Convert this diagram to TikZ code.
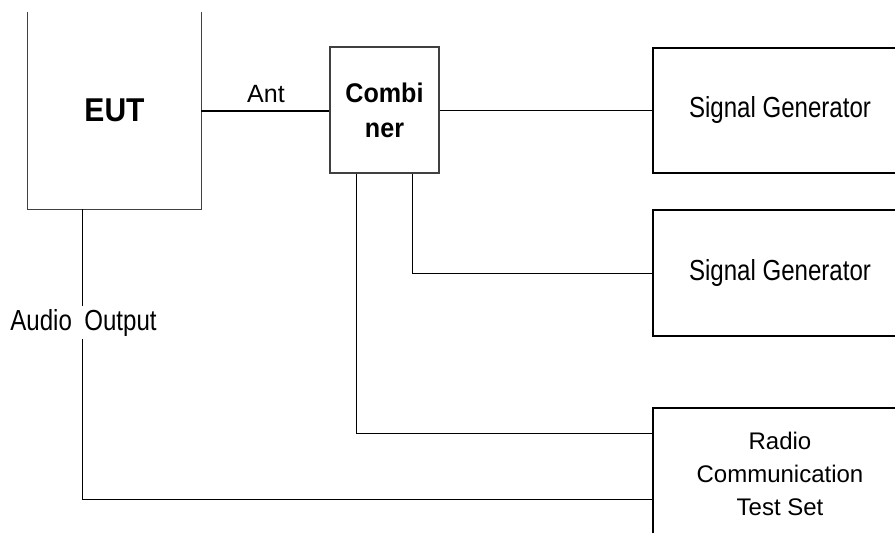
\documentclass[tikz,border=0pt]{standalone}
\usepackage{fontspec}
\setmainfont{Liberation Sans}
\usetikzlibrary{calc}

% narrow-looking text: a font size scaled horizontally
\newcommand{\narrowtxt}[3]{\fontsize{#1}{#1}\selectfont\scalebox{#2}[1]{#3}}

\tikzset{
  unit/.style={draw=black, line width=2pt, minimum width=254pt, inner sep=0pt, align=center},
  wire/.style={draw=black, line width=1pt},
  antwire/.style={draw=black, line width=2pt},
  lbl/.style={inner sep=0pt},
}

\begin{document}
\begin{tikzpicture}[x=1pt, y=-1pt]
  \useasboundingbox (0,0) rectangle (895,533);
  \clip (0,0) rectangle (895,533);

  % equipment under test, drawn open at the top
  \node[minimum width=173pt, minimum height=197pt, inner sep=0pt] (eut) at (114.5,110.5)
    {\bfseries\narrowtxt{33pt}{0.91}{EUT}};
  \draw[draw=black!75, line width=1.3pt] (eut.north west) |- (eut.south east) -- (eut.north east);

  % combiner
  \node[draw=black!75, line width=1.3pt, minimum width=109pt, minimum height=126pt,
        inner sep=0pt, align=center, font=\fontsize{27pt}{35pt}\selectfont\bfseries] (comb) at (384.5,110)
    {\scalebox{0.93}[1]{Combi}\\\scalebox{0.93}[1]{ner}};

  % instruments on the right
  \node[unit, minimum height=125pt] (sg1) at (780,110.5)
    {\narrowtxt{29pt}{0.83}{Signal Generator}};
  \node[unit, minimum height=126pt] (sg2) at (780,273)
    {\narrowtxt{29pt}{0.83}{Signal Generator}};
  \node[unit, minimum height=132pt, font=\fontsize{24pt}{33pt}\selectfont] (rcts) at (780,474)
    {Radio\\Communication\\Test Set};

  % antenna path
  \draw[antwire] (eut.east) -- (eut.east -| comb.west);
  \node[lbl, anchor=base] (ant) at (266,102) {\fontsize{25pt}{25pt}\selectfont Ant};

  % combiner outputs
  \draw[wire] (comb.east) -- (comb.east -| sg1.west);
  \coordinate (c1) at ($(comb.south west)!0.25!(comb.south east)$);
  \coordinate (c2) at ($(comb.south west)!0.75!(comb.south east)$);
  \draw[wire] (c2) |- (sg2.west);
  \coordinate (r1) at ($(rcts.north west)+(0,26)$);
  \coordinate (r2) at ($(rcts.north west)+(0,92)$);
  \draw[wire] (c1) |- (r1);

  % audio output to the test set
  \coordinate (a0) at ($(eut.south west)!0.318!(eut.south east)$);
  \draw[wire] (a0) |- (r2);
  \node[fill=white, inner xsep=1pt, inner ysep=3pt, anchor=base] (audio) at (83.5,330)
    {\narrowtxt{29pt}{0.83}{Audio\hspace{7pt} Output}};
\end{tikzpicture}
\end{document}
